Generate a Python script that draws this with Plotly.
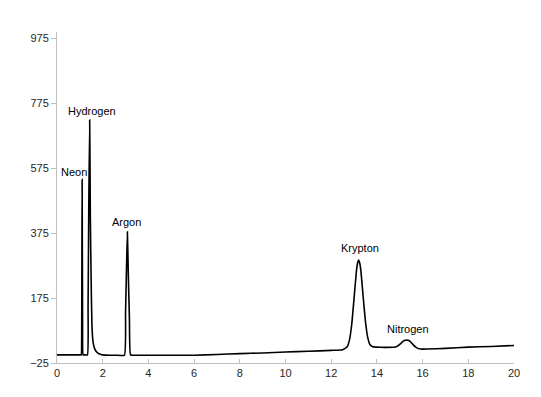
import plotly.graph_objects as go

# Retention time (min) and detector signal
time = [0.0, 0.5, 1.0, 1.06, 1.08, 1.09, 1.10, 1.12, 1.14, 1.2, 1.33, 1.36, 1.39, 1.43,
        1.46, 1.50, 1.53, 1.57, 1.62, 1.70, 1.80, 1.90, 2.0, 2.3, 2.6, 2.95, 3.00,
        3.04, 3.08, 3.12, 3.17, 3.22, 3.4, 4.0, 5.0, 6.0, 7.0, 8.0, 9.0, 10.0, 11.0,
        12.0, 12.5, 12.7, 12.8, 12.9, 13.0, 13.1, 13.15, 13.2, 13.25, 13.3, 13.4, 13.5,
        13.6, 13.7, 13.8, 13.9, 14.0, 14.4, 14.8, 14.9, 15.0, 15.1, 15.2, 15.3, 15.4,
        15.5, 15.6, 15.7, 15.8, 15.9, 16.2, 17.0, 18.0, 19.0, 20.0]
signal = [0, 0, 0, 0, 60, 300, 540, 90, 0, 0, 0, 150, 450, 723,
          420, 200, 90, 45, 25, 12, 5, 2, 0, -1, -1, -1, 130,
          260, 379, 250, 110, 0, -1, -1, -1, -1, 1, 4, 6, 9, 11,
          14, 16, 25, 46, 95, 174, 255, 281, 292, 282, 258, 178, 102,
          53, 31, 26, 24, 24, 23, 24, 27, 32, 39, 44, 46, 44,
          38, 30, 24, 20, 18, 18, 20, 24, 26, 29]

peak_names = ["Neon", "Hydrogen", "Argon", "Krypton", "Nitrogen"]
label_x = [0.75, 1.53, 3.06, 13.26, 15.38]
label_y = [563, 750, 408, 329, 80]

y_ticks = [-25, 175, 375, 575, 775, 975]
x_ticks = [0, 2, 4, 6, 8, 10, 12, 14, 16, 18, 20]

fig = go.Figure()
fig.add_trace(go.Scatter(x=time, y=signal, mode="lines",
                         line=dict(color="black", width=1.6, shape="spline", smoothing=0.4),
                         showlegend=False))

for name, lx, ly in zip(peak_names, label_x, label_y):
    fig.add_annotation(x=lx, y=ly, text=name, showarrow=False,
                       font=dict(family="Liberation Sans", size=11, color="#000000"))

fig.update_layout(
    width=541, height=397,
    margin=dict(l=57, r=27, t=32, b=34),
    paper_bgcolor="white", plot_bgcolor="white",
    font=dict(family="Liberation Sans", size=11, color="#262626"),
    xaxis=dict(range=[0, 20], tickvals=x_ticks, showgrid=False, zeroline=False,
               showline=True, linecolor="#bfbfbf", linewidth=1,
               ticks="inside", ticklen=4, tickcolor="#bfbfbf"),
    yaxis=dict(range=[-25, 993.5], tickvals=y_ticks, showgrid=False, zeroline=False,
               showline=True, linecolor="#bfbfbf", linewidth=1,
               ticks="outside", ticklen=5, tickcolor="#bfbfbf"),
)

fig.write_html("out.html", config={"displayModeBar": False},
               post_script="document.body.style.margin='0';")
